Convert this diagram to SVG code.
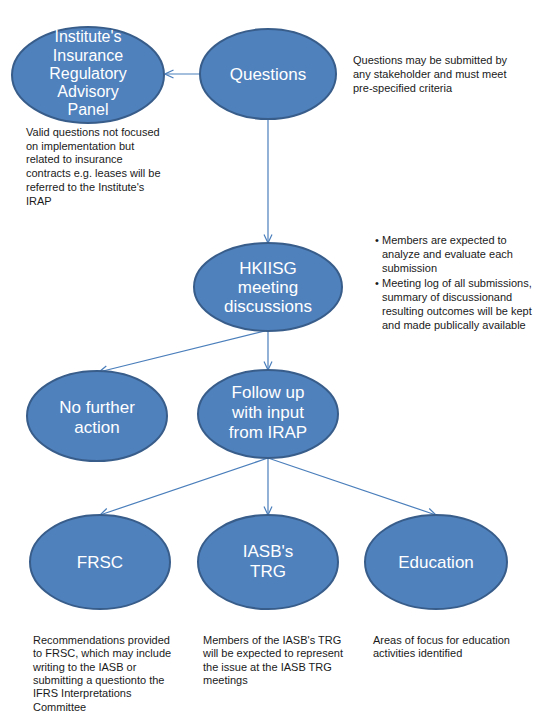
<svg xmlns="http://www.w3.org/2000/svg" width="555" height="720" viewBox="0 0 555 720">
<style>
.node{fill:#4f81bd;stroke:#385d8a;stroke-width:2}
.nt{font-family:"Liberation Sans",Arial,sans-serif;font-size:17px;fill:#ffffff;text-anchor:middle}
.nt15{font-family:"Liberation Sans",Arial,sans-serif;font-size:16px;fill:#ffffff;text-anchor:middle}
.note{font-family:"Liberation Sans",Arial,sans-serif;font-size:11px;fill:#1a1a1a}
.conn line{stroke:#4a7ebb;stroke-width:1.2;fill:none;marker-end:url(#arr)}
</style>
<defs>
<marker id="arr" viewBox="0 0 10 10" refX="9.5" refY="5" markerWidth="10" markerHeight="10" markerUnits="userSpaceOnUse" orient="auto">
<path d="M1,1 L9.5,5 L1,9" fill="none" stroke="#4a7ebb" stroke-width="1.2"/>
</marker>
</defs>
<rect width="555" height="720" fill="#ffffff"/>
<g id="connectors" class="conn">
<line x1="200" y1="74" x2="165" y2="74"/>
<line x1="268" y1="119" x2="268" y2="243"/>
<line x1="265" y1="331" x2="99" y2="372"/>
<line x1="268" y1="331" x2="268" y2="370"/>
<line x1="268" y1="458" x2="100" y2="515"/>
<line x1="268" y1="458" x2="268" y2="515"/>
<line x1="268" y1="458" x2="436" y2="515"/>
</g>
<g id="irap">
<ellipse class="node" cx="88" cy="75" rx="76" ry="48"/>
<text class="nt15" x="88" y="42">Institute's</text>
<text class="nt15" x="88" y="61">Insurance</text>
<text class="nt15" x="88" y="79">Regulatory</text>
<text class="nt15" x="88" y="97">Advisory</text>
<text class="nt15" x="88" y="115">Panel</text>
</g>
<g id="questions">
<ellipse class="node" cx="268" cy="74" rx="68" ry="45"/>
<text class="nt" x="268" y="80">Questions</text>
</g>
<g id="hkiisg">
<ellipse class="node" cx="268" cy="287" rx="74" ry="44"/>
<text class="nt" x="268" y="274">HKIISG</text>
<text class="nt" x="268" y="293">meeting</text>
<text class="nt" x="268" y="312">discussions</text>
</g>
<g id="nofurther">
<ellipse class="node" cx="97" cy="416" rx="70" ry="45"/>
<text class="nt" x="97" y="413">No further</text>
<text class="nt" x="97" y="433">action</text>
</g>
<g id="followup">
<ellipse class="node" cx="268" cy="414" rx="70" ry="44"/>
<text class="nt" x="268" y="398">Follow up</text>
<text class="nt" x="268" y="418">with input</text>
<text class="nt" x="268" y="438">from IRAP</text>
</g>
<g id="frsc">
<ellipse class="node" cx="100" cy="562" rx="70" ry="47"/>
<text class="nt" x="100" y="568">FRSC</text>
</g>
<g id="iasb">
<ellipse class="node" cx="268" cy="562" rx="70" ry="47"/>
<text class="nt" x="268" y="557">IASB's</text>
<text class="nt" x="268" y="577">TRG</text>
</g>
<g id="education">
<ellipse class="node" cx="436" cy="562" rx="71" ry="47"/>
<text class="nt" x="436" y="568">Education</text>
</g>
<g id="notes">
<text class="note" x="353" y="64">Questions may be submitted by</text>
<text class="note" x="353" y="78">any stakeholder and must meet</text>
<text class="note" x="353" y="92">pre-specified criteria</text>
<text class="note" x="26" y="136">Valid questions not focused</text>
<text class="note" x="26" y="150">on implementation but</text>
<text class="note" x="26" y="163">related to insurance</text>
<text class="note" x="26" y="177">contracts e.g. leases will be</text>
<text class="note" x="26" y="191">referred to the Institute's</text>
<text class="note" x="26" y="205">IRAP</text>
<text class="note" x="375" y="244">•</text>
<text class="note" x="382" y="244">Members are expected to</text>
<text class="note" x="382" y="258">analyze and evaluate each</text>
<text class="note" x="382" y="272">submission</text>
<text class="note" x="375" y="287">•</text>
<text class="note" x="382" y="287">Meeting log of all submissions,</text>
<text class="note" x="382" y="301">summary of discussionand</text>
<text class="note" x="382" y="315">resulting outcomes will be kept</text>
<text class="note" x="382" y="329">and made publically available</text>
<text class="note" x="33" y="644">Recommendations provided</text>
<text class="note" x="33" y="657">to FRSC, which may include</text>
<text class="note" x="33" y="671">writing to the IASB or</text>
<text class="note" x="33" y="684">submitting a questionto the</text>
<text class="note" x="33" y="697">IFRS Interpretations</text>
<text class="note" x="33" y="711">Committee</text>
<text class="note" x="203" y="644">Members of the IASB's TRG</text>
<text class="note" x="203" y="657">will be expected to represent</text>
<text class="note" x="203" y="671">the issue at the IASB TRG</text>
<text class="note" x="203" y="684">meetings</text>
<text class="note" x="373" y="644">Areas of focus for education</text>
<text class="note" x="373" y="657">activities identified</text>
</g>
</svg>
